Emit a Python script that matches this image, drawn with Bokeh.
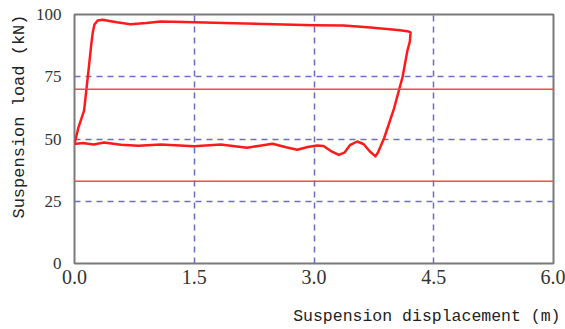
import numpy as np
from bokeh.plotting import figure
from bokeh.models import Range1d, FixedTicker, Span, Title
from bokeh.embed import file_html
from bokeh.resources import INLINE

# ---- data ----
x_ticks = [0.0, 1.5, 3.0, 4.5, 6.0]
x_tick_labels = ["0.0", "1.5", "3.0", "4.5", "6.0"]
y_ticks = [0, 25, 50, 75, 100]
y_tick_labels = ["0", "25", "50", "75", "100"]
grid_x = [1.5, 3.0, 4.5]
grid_y = [25, 50, 75]
limit_lines = [70, 33]

disp = [0.00, 0.01, 0.05, 0.10, 0.12, 0.15, 0.18, 0.21, 0.23, 0.25, 0.29, 0.35, 0.42,
        0.53, 0.70, 0.90, 1.08, 1.50, 2.00, 2.50, 3.00, 3.37, 3.67, 4.05, 4.17, 4.21,
        4.20, 4.17, 4.11, 4.00, 3.88, 3.80, 3.77, 3.70, 3.62, 3.54, 3.45, 3.38, 3.31,
        3.22, 3.12, 3.04, 2.92, 2.79, 2.65, 2.48, 2.30, 2.16, 1.83, 1.50, 1.08, 0.80,
        0.58, 0.37, 0.24, 0.10, 0.00]
load = [48.0, 49.4, 54.7, 59.5, 61.4, 70.1, 78.9, 88.0, 93.0, 96.0, 97.6, 97.9, 97.5,
        96.9, 96.1, 96.6, 97.2, 96.9, 96.5, 96.1, 95.7, 95.6, 94.9, 93.8, 93.3, 92.8,
        89.0, 85.5, 75.0, 62.0, 50.5, 44.5, 43.0, 45.0, 48.0, 49.0, 47.5, 44.5, 43.6,
        45.0, 47.2, 47.4, 46.8, 45.7, 46.7, 48.1, 47.2, 46.5, 47.8, 47.1, 47.8, 47.3,
        47.7, 48.6, 47.8, 48.4, 48.0]

p = figure(width=565, height=329, output_backend="svg", toolbar_location=None,
           x_range=Range1d(0, 6), y_range=Range1d(0, 100),
           min_border_left=74, min_border_right=12, min_border_top=14, min_border_bottom=66,
           frame_width=479, frame_height=249)

p.background_fill_color = "white"
p.border_fill_color = "white"
p.outline_line_color = "#7a7a7a"
p.outline_line_width = 2

# grid
p.xgrid.ticker = FixedTicker(ticks=grid_x)
p.ygrid.ticker = FixedTicker(ticks=grid_y)
for g in (p.xgrid, p.ygrid):
    g.grid_line_color = "#6b6bc9"
    g.grid_line_width = 1.5
    g.grid_line_dash = "6 5"

# axes
p.xaxis.ticker = FixedTicker(ticks=x_ticks)
p.yaxis.ticker = FixedTicker(ticks=y_ticks)
p.xaxis.major_label_overrides = {t: l for t, l in zip(x_ticks, x_tick_labels)}
p.yaxis.major_label_overrides = {t: l for t, l in zip(y_ticks, y_tick_labels)}
for ax in (p.xaxis, p.yaxis):
    ax.axis_line_color = None
    ax.major_tick_line_color = None
    ax.minor_tick_line_color = None
    ax.major_tick_out = 0
    ax.major_tick_in = 0
    ax.major_label_text_font = "Liberation Serif"
    ax.major_label_text_color = "#333333"
p.xaxis.major_label_text_font_size = "20px"
p.yaxis.major_label_text_font_size = "17px"
p.xaxis.major_label_standoff = 6
p.yaxis.major_label_standoff = 13

# limit lines
for v in limit_lines:
    p.add_layout(Span(location=v, dimension="width", line_color="#f24b4b", line_width=1.5))

# loop curve
p.line(disp, load, line_color="#ff1a1a", line_width=2.5, line_join="round")

# axis titles
p.add_layout(Title(text="Suspension load (kN)", align="right",
                   text_font="Liberation Mono", text_font_size="17px",
                   text_font_style="normal", text_color="#222222", standoff=8), "left")
p.add_layout(Title(text="Suspension displacement (m)", align="right", offset=-7,
                   text_font="Liberation Mono", text_font_size="16.5px",
                   text_font_style="normal", text_color="#222222", standoff=36), "below")

open("out.html", "w").write(file_html(p, INLINE))
